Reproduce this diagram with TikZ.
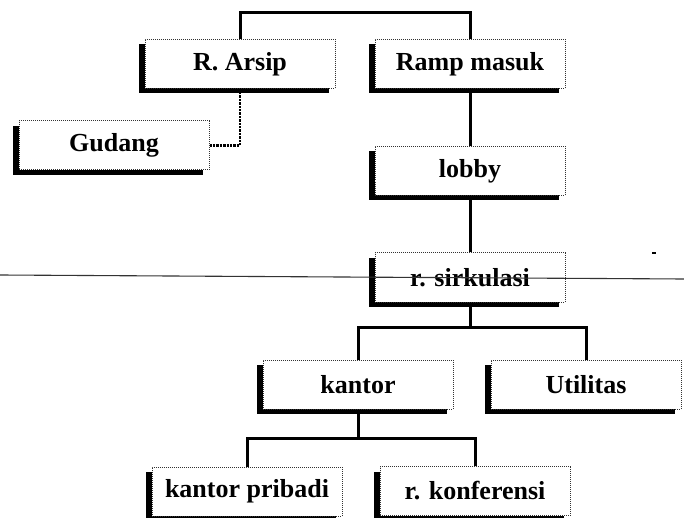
\documentclass[tikz,border=0pt]{standalone}
\usepackage{fontspec}
\setmainfont{Liberation Serif}
\usetikzlibrary{shadows}
\begin{document}
\begin{tikzpicture}[x=1pt,y=-1pt,
  room/.style={draw=black!80, densely dotted, line width=1pt, fill=white,
    minimum width=190pt, minimum height=49pt, inner sep=0pt,
    font=\fontsize{26}{30}\selectfont\bfseries,
    drop shadow={shadow xshift=-6pt, shadow yshift=-5pt, fill=black, opacity=1, draw=none}},
  conn/.style={line width=3pt, black},
  dotconn/.style={line width=2.4pt, black, densely dotted},
  thinline/.style={line width=1.1pt, black!80}]
\useasboundingbox (0,0) rectangle (684,518);
\clip (0,0) rectangle (684,518);

\node[room] (arsip)   at (240,64)    {R. Arsip};
\node[room] (ramp)    at (470,64)    {Ramp masuk};
\node[room] (gudang)  at (114,145.5) {Gudang};
\node[room] (lobby)   at (470,171)   {lobby};
\node[room] (sirk)    at (470,277.5) {r. sirkulasi};
\node[room] (kantor)  at (358,384.5) {kantor};
\node[room] (util)    at (586,384.5) {Utilitas};
\node[room] (pribadi) at (247,491.5) {kantor pribadi};
\node[room] (konf)    at (475,491)   {r. konferensi};

\coordinate (top) at (240,13);
\draw[conn] (arsip.north) -- (top) -| (ramp.north);
\draw[conn] (ramp.south) -- (lobby.north);
\draw[conn] (lobby.south) -- (sirk.north);
\draw[conn] (sirk.south) -- ++(0,25) coordinate (s2);
\draw[conn] (kantor.north) |- (s2) -| (util.north);
\draw[conn] (kantor.south) -- ++(0,28.5) coordinate (k2);
\draw[conn] (pribadi.north) |- (k2) -| (konf.north);
\draw[dotconn] (gudang.east) -| (arsip.south);

\coordinate (l1) at (0,275);
\coordinate (l2) at (684,279);
\draw[thinline] (l1) -- (l2);
\coordinate (m1) at (652,253);
\coordinate (m2) at (656,253);
\draw[line width=1.2pt] (m1) -- (m2);
\end{tikzpicture}
\end{document}
